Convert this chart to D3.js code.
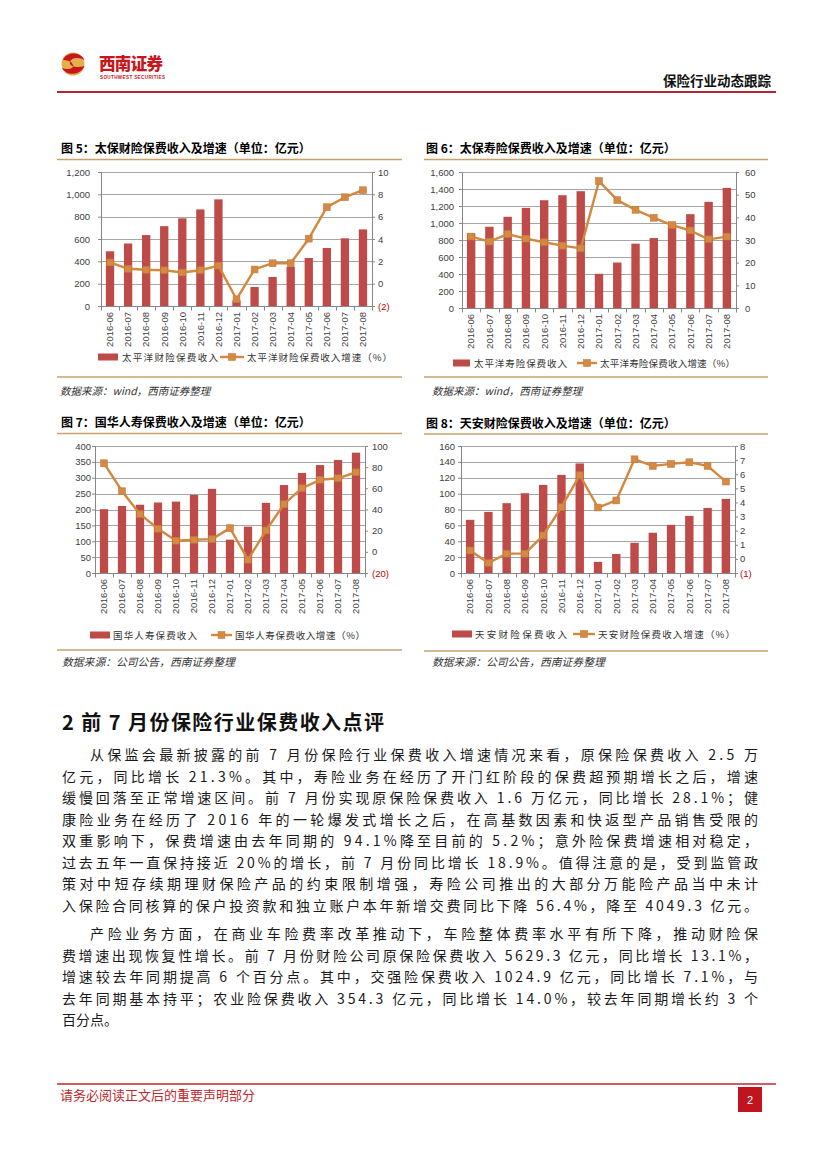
<!DOCTYPE html>
<html><head><meta charset="utf-8">
<script src="https://cdn.jsdelivr.net/npm/d3@7"></script>
<style>
body{margin:0;background:#fff}
svg text{font-family:"Noto Sans CJK SC","Noto Sans",sans-serif}
.num{font-family:"Liberation Sans",Arial,sans-serif}
</style>
</head><body>
<svg id="page" width="827" height="1169"></svg>
<script>
// ---------------- DATA ----------------
const months = ["2016-06","2016-07","2016-08","2016-09","2016-10","2016-11","2016-12",
                "2017-01","2017-02","2017-03","2017-04","2017-05","2017-06","2017-07","2017-08"];

// 图5 太保财险
const cpicPCPremium = [490,560,635,715,785,865,955,50,170,260,350,430,520,606,686];
const cpicPCGrowth  = [1.9,1.33,1.24,1.2,1.0,1.2,1.62,-1.4,1.27,1.83,1.83,4.03,6.85,7.74,8.37];
const cpicPCLeftTicks  = [0,200,400,600,800,1000,1200];
const cpicPCRightTicks = [-2,0,2,4,6,8,10];

// 图6 太保寿险
const cpicLifePremium = [878,956,1073,1178,1268,1327,1374,402,535,757,823,990,1104,1249,1413];
const cpicLifeGrowth  = [31.5,29.3,32.6,30.6,29.0,27.5,26.3,56.0,47.6,43.3,39.8,36.6,34.2,30.3,31.5];
const cpicLifeLeftTicks  = [0,200,400,600,800,1000,1200,1400,1600];
const cpicLifeRightTicks = [0,10,20,30,40,50,60];

// 图7 国华人寿
const guohuaPremium = [201,211,215,222,225,246,265,105,146,221,277,315,340,356,379];
const guohuaGrowth  = [83.7,57.3,35.6,21.8,10.5,11.4,12.0,22.4,-7.4,20.2,45.0,60.1,68.0,69.5,75.2];
const guohuaLeftTicks  = [0,50,100,150,200,250,300,350,400];
const guohuaRightTicks = [-20,0,20,40,60,80,100];

// 图8 天安财险
const tiananPremium = [67,77,88,100.5,111,123.6,138,14,24,38,50.7,60.7,72,82,93.4];
const tiananGrowth  = [0.6,-0.29,0.37,0.37,1.66,3.67,5.93,3.64,4.14,7.06,6.59,6.73,6.85,6.59,5.48];
const tiananLeftTicks  = [0,20,40,60,80,100,120,140,160];
const tiananRightTicks = [-1,0,1,2,3,4,5,6,7,8];

// ---------------- STYLE ----------------
const BAR="#BE4B48", LINE="#D4873F", GOLD="#C9A26A", GRID="#A6A6A6", AXIS="#868686", NEG="#C00000", TXT="#404040";
const svg = d3.select("#page");
svg.append("rect").attr("width",827).attr("height",1169).attr("fill","#fff");

// ---------------- HEADER ----------------
const hdr = svg.append("g");
hdr.append("circle").attr("cx",73).attr("cy",64).attr("r",11.5).attr("fill","#E3B04B");
hdr.append("path").attr("d","M63,60 C66,52 80,51 84.5,60 C79,56.5 71,57.5 70,62 C69,67 78,68 84.5,66 C81,75 67,77 62,68 C67,70 74,69 73,65 C72,61 66,60 63,60 Z").attr("fill","#C8161D");
hdr.append("text").attr("x",99).attr("y",70).attr("font-size",16.5).attr("font-weight",900).attr("fill","#C8161D").attr("textLength",64).text("西南证券");
hdr.append("text").attr("x",100).attr("y",79).attr("font-size",4.6).attr("font-weight",700).attr("fill","#C8161D").attr("class","num").attr("textLength",65).text("SOUTHWEST SECURITIES");
hdr.append("text").attr("x",771).attr("y",86).attr("text-anchor","end").attr("font-size",13.5).attr("font-weight",700).attr("fill","#111").text("保险行业动态跟踪");
hdr.append("line").attr("x1",57).attr("x2",776).attr("y1",92).attr("y2",92).attr("stroke","#B52630").attr("stroke-width",2);

// ---------------- CHARTS ----------------
function drawChart(c){
  const g = svg.append("g");
  g.append("text").attr("x",c.titleX).attr("y",c.titleY).attr("font-size",12).attr("font-weight",700).attr("fill","#000").text(c.title);
  g.append("line").attr("x1",c.ruleX1).attr("x2",c.ruleX2).attr("y1",c.ruleTopY).attr("y2",c.ruleTopY).attr("stroke",GOLD).attr("stroke-width",1.6);
  g.append("line").attr("x1",c.ruleX1).attr("x2",c.ruleX2).attr("y1",c.ruleBotY).attr("y2",c.ruleBotY).attr("stroke",GOLD).attr("stroke-width",1.6);
  g.append("text").attr("x",c.sourceX).attr("y",c.sourceY).attr("font-size",c.sourceSize).attr("font-style","italic").attr("fill","#333").text(c.source);

  const x = d3.scaleBand().domain(months).range([c.left,c.right]).paddingInner(0.54).paddingOuter(0.27);
  const yL = d3.scaleLinear().domain(d3.extent(c.leftTicks)).range([c.bottom,c.top]);
  const yR = d3.scaleLinear().domain(d3.extent(c.rightTicks)).range([c.bottom,c.top]);
  const bw = x.bandwidth();

  g.append("g").selectAll("line").data(c.leftTicks.slice(1)).join("line")
    .attr("x1",c.left).attr("x2",c.right).attr("y1",d=>Math.round(yL(d))+0.5).attr("y2",d=>Math.round(yL(d))+0.5)
    .attr("stroke",GRID).attr("stroke-width",1);

  g.append("g").selectAll("rect").data(months.map((m,i)=>({m,v:c.bars[i]}))).join("rect")
    .attr("x",d=>x(d.m)).attr("width",bw).attr("y",d=>yL(d.v)).attr("height",d=>yL(0)-yL(d.v)).attr("fill",BAR);

  const aL = g.append("g").attr("transform",`translate(${c.left},0)`)
    .call(d3.axisLeft(yL).tickValues(c.leftTicks).tickFormat(d3.format(",")).tickSizeInner(3).tickSizeOuter(0).tickPadding(Math.max(1,c.left-c.leftLabelX-3)));
  const aR = g.append("g").attr("transform",`translate(${c.right},0)`)
    .call(d3.axisRight(yR).tickValues(c.rightTicks).tickFormat(v=>v<0?`(${-v})`:v).tickSizeInner(3).tickSizeOuter(0).tickPadding(Math.max(1,c.rightLabelX-c.right-3)));
  [aL,aR].forEach(a=>{
    a.select(".domain").attr("stroke",AXIS);
    a.selectAll(".tick line").attr("stroke",AXIS);
    a.selectAll(".tick text").attr("class","num").attr("font-size",9.5).attr("fill",TXT);
  });
  aR.selectAll(".tick text").attr("fill",d=>d<0?NEG:TXT);

  const base = Math.round(yL(0))+0.5;
  g.append("line").attr("x1",c.left).attr("x2",c.right).attr("y1",base).attr("y2",base).attr("stroke",AXIS);
  const bounds = months.map(m=>x(m)-(x.step()-bw)/2).concat([c.right]);
  g.append("g").selectAll("line").data(bounds).join("line")
    .attr("x1",d=>Math.round(d)+0.5).attr("x2",d=>Math.round(d)+0.5).attr("y1",base).attr("y2",base+4).attr("stroke",AXIS);
  g.append("g").selectAll("text").data(months).join("text").attr("class","num")
    .attr("transform",d=>`translate(${x(d)+bw/2+3.3},${c.bottom+6}) rotate(-90)`)
    .attr("text-anchor","end").attr("font-size",9.5).attr("fill",TXT).text(d=>d);

  const pts = months.map((m,i)=>({m,v:c.line[i]}));
  g.append("path").datum(pts).attr("fill","none").attr("stroke",LINE).attr("stroke-width",2.4).attr("stroke-linejoin","round")
    .attr("d",d3.line().x(d=>x(d.m)+bw/2).y(d=>yR(d.v)));
  g.append("g").selectAll("rect").data(pts).join("rect")
    .attr("x",d=>x(d.m)+bw/2-3.4).attr("y",d=>yR(d.v)-3.4).attr("width",6.8).attr("height",6.8)
    .attr("fill","#D48A44").attr("stroke","#C47835").attr("stroke-width",0.6);

  const L = c.legend, ly = L.y;
  g.append("rect").attr("x",L.barSw[0]).attr("width",L.barSw[1]-L.barSw[0]).attr("y",ly-3.5).attr("height",7).attr("fill",BAR);
  g.append("text").attr("x",L.barText[0]).attr("y",ly+3.5).attr("font-size",9.5).attr("fill","#333")
    .attr("textLength",L.barText[1]-L.barText[0]).attr("lengthAdjust","spacing").text(c.barName);
  g.append("line").attr("x1",L.lineSw[0]).attr("x2",L.lineSw[1]).attr("y1",ly).attr("y2",ly).attr("stroke",LINE).attr("stroke-width",2.4);
  const mc=(L.lineSw[0]+L.lineSw[1])/2;
  g.append("rect").attr("x",mc-3.4).attr("y",ly-3.4).attr("width",6.8).attr("height",6.8).attr("fill","#D48A44").attr("stroke","#C47835").attr("stroke-width",0.6);
  g.append("text").attr("x",L.lineText[0]).attr("y",ly+3.5).attr("font-size",9.5).attr("fill","#333")
    .attr("textLength",L.lineText[1]-L.lineText[0]).attr("lengthAdjust","spacing").text(c.lineName);
}

drawChart({
  title:"图 5：太保财险保费收入及增速（单位：亿元）", titleX:61, titleY:153,
  ruleX1:57, ruleX2:402, ruleTopY:159.5, ruleBotY:377,
  source:"数据来源：wind，西南证券整理", sourceX:60, sourceY:395, sourceSize:10.5,
  left:101, right:372, top:172, bottom:306, leftLabelX:90, rightLabelX:378,
  leftTicks:cpicPCLeftTicks, rightTicks:cpicPCRightTicks, bars:cpicPCPremium, line:cpicPCGrowth,
  barName:"太平洋财险保费收入", lineName:"太平洋财险保费收入增速（%）",
  legend:{y:357, barSw:[98,118], barText:[122,218], lineSw:[220,244], lineText:[247,392]}
});
drawChart({
  title:"图 6：太保寿险保费收入及增速（单位：亿元）", titleX:426, titleY:153,
  ruleX1:424, ruleX2:768, ruleTopY:159.5, ruleBotY:377,
  source:"数据来源：wind，西南证券整理", sourceX:432, sourceY:395, sourceSize:10.5,
  left:462, right:736, top:172, bottom:308, leftLabelX:454, rightLabelX:745,
  leftTicks:cpicLifeLeftTicks, rightTicks:cpicLifeRightTicks, bars:cpicLifePremium, line:cpicLifeGrowth,
  barName:"太平洋寿险保费收入", lineName:"太平洋寿险保费收入增速（%）",
  legend:{y:363, barSw:[453,470], barText:[474,567], lineSw:[577,597], lineText:[600,735]}
});
drawChart({
  title:"图 7：国华人寿保费收入及增速（单位：亿元）", titleX:61, titleY:427,
  ruleX1:57, ruleX2:402, ruleTopY:433.5, ruleBotY:650,
  source:"数据来源：公司公告，西南证券整理", sourceX:62, sourceY:666, sourceSize:10.8,
  left:95, right:365, top:446, bottom:573, leftLabelX:92, rightLabelX:372,
  leftTicks:guohuaLeftTicks, rightTicks:guohuaRightTicks, bars:guohuaPremium, line:guohuaGrowth,
  barName:"国华人寿保费收入", lineName:"国华人寿保费收入增速（%）",
  legend:{y:635, barSw:[90,110], barText:[113,197], lineSw:[211,232], lineText:[235,365]}
});
drawChart({
  title:"图 8：天安财险保费收入及增速（单位：亿元）", titleX:426, titleY:427.5,
  ruleX1:424, ruleX2:768, ruleTopY:434, ruleBotY:651,
  source:"数据来源：公司公告，西南证券整理", sourceX:432, sourceY:666, sourceSize:10.8,
  left:461, right:735, top:446, bottom:573, leftLabelX:455, rightLabelX:740,
  leftTicks:tiananLeftTicks, rightTicks:tiananRightTicks, bars:tiananPremium, line:tiananGrowth,
  barName:"天安财险保费收入", lineName:"天安财险保费收入增速（%）",
  legend:{y:634, barSw:[452,472], barText:[475,567], lineSw:[573,595], lineText:[598,735]}
});

// ---------------- BODY TEXT ----------------
svg.append("text").attr("x",62).attr("y",730).attr("font-size",20).attr("font-weight",700).attr("fill","#111")
  .attr("textLength",322).attr("lengthAdjust","spacing")
  .text("2 前 7 月份保险行业保费收入点评");

const para1 = [
  "从保监会最新披露的前 7 月份保险行业保费收入增速情况来看，原保险保费收入 2.5 万",
  "亿元，同比增长 21.3%。其中，寿险业务在经历了开门红阶段的保费超预期增长之后，增速",
  "缓慢回落至正常增速区间。前 7 月份实现原保险保费收入 1.6 万亿元，同比增长 28.1%；健",
  "康险业务在经历了 2016 年的一轮爆发式增长之后，在高基数因素和快返型产品销售受限的",
  "双重影响下，保费增速由去年同期的 94.1%降至目前的 5.2%；意外险保费增速相对稳定，",
  "过去五年一直保持接近 20%的增长，前 7 月份同比增长 18.9%。值得注意的是，受到监管政",
  "策对中短存续期理财保险产品的约束限制增强，寿险公司推出的大部分万能险产品当中未计",
  "入保险合同核算的保户投资款和独立账户本年新增交费同比下降 56.4%，降至 4049.3 亿元。"
];
const para2 = [
  "产险业务方面，在商业车险费率改革推动下，车险整体费率水平有所下降，推动财险保",
  "费增速出现恢复性增长。前 7 月份财险公司原保险保费收入 5629.3 亿元，同比增长 13.1%，",
  "增速较去年同期提高 6 个百分点。其中，交强险保费收入 1024.9 亿元，同比增长 7.1%，与",
  "去年同期基本持平；农业险保费收入 354.3 亿元，同比增长 14.0%，较去年同期增长约 3 个",
  "百分点。"
];
function drawPara(lines, y0, justifyLast){
  lines.forEach((t,i)=>{
    const x0 = i===0 ? 90 : 62;
    const el = svg.append("text").attr("x",x0).attr("y",y0+i*21.5).attr("font-size",14).attr("fill","#1a1a1a").text(t);
    if(i<lines.length-1 || justifyLast) el.attr("textLength",758-x0).attr("lengthAdjust","spacing");
  });
}
drawPara(para1, 760, true);
drawPara(para2, 939, false);

// ---------------- FOOTER ----------------
svg.append("line").attr("x1",57).attr("x2",776).attr("y1",1084).attr("y2",1084).attr("stroke","#C0282D").attr("stroke-width",1.6);
svg.append("text").attr("x",60).attr("y",1100).attr("font-size",13).attr("fill","#C0282D").text("请务必阅读正文后的重要声明部分");
svg.append("rect").attr("x",738).attr("y",1087).attr("width",24).attr("height",25).attr("fill","#C0141E");
svg.append("text").attr("x",750).attr("y",1104).attr("text-anchor","middle").attr("font-size",11).attr("fill","#fff").attr("class","num").text("2");
</script>
</body></html>
